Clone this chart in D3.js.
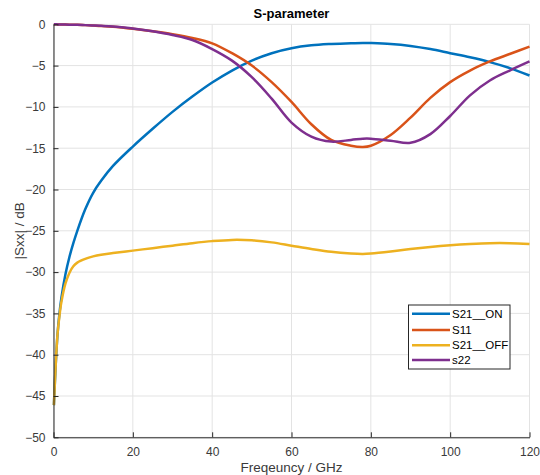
<!DOCTYPE html>
<html>
<head>
<meta charset="utf-8">
<script src="https://cdn.jsdelivr.net/npm/d3@7"></script>
<style>
  html, body { margin: 0; padding: 0; background: #fff; }
  svg { display: block; font-family: "Liberation Sans", Arial, Helvetica, sans-serif; }
</style>
</head>
<body>
<svg id="chart" width="540" height="475"></svg>
<script>
// Frequency grid (GHz)
const freq = [0.1, 0.5, 1, 1.5, 2, 3, 4, 5, 6, 8, 10, 12, 15, 20, 25, 30, 35, 40, 45, 50,
              55, 60, 65, 70, 75, 78, 80, 85, 90, 95, 100, 105, 110, 115, 120];

// |S| in dB for each trace
const s21On  = [-46.1, -41.8, -37.6, -35.0, -33.1, -30.3, -28.2, -26.5, -25.0, -22.4, -20.4, -18.95, -17.15, -14.8, -12.65, -10.6, -8.75, -7.05, -5.6, -4.4,
                -3.5, -2.9, -2.55, -2.38, -2.28, -2.25, -2.27, -2.38, -2.62, -3.0, -3.5, -4.0, -4.58, -5.3, -6.2];
const s11    = [0, 0, -0.01, -0.02, -0.02, -0.03, -0.04, -0.05, -0.06, -0.1, -0.15, -0.2, -0.3, -0.55, -0.85, -1.2, -1.65, -2.3, -3.5, -5.0,
                -7.0, -9.4, -12.1, -14.0, -14.7, -14.85, -14.7, -13.4, -11.3, -8.9, -7.0, -5.6, -4.5, -3.6, -2.7];
const s21Off = [-46.1, -41.8, -37.6, -35.3, -33.6, -31.4, -30.1, -29.3, -28.85, -28.4, -28.1, -27.9, -27.7, -27.4, -27.1, -26.8, -26.5, -26.25, -26.1, -26.15,
                -26.4, -26.8, -27.2, -27.55, -27.75, -27.8, -27.75, -27.5, -27.2, -26.95, -26.75, -26.6, -26.5, -26.5, -26.6];
const s22    = [0, 0, -0.01, -0.02, -0.02, -0.03, -0.04, -0.05, -0.06, -0.1, -0.14, -0.19, -0.28, -0.5, -0.85, -1.3, -1.9, -3.0, -4.4, -6.4,
                -9.0, -11.9, -13.6, -14.2, -14.0, -13.85, -13.85, -14.1, -14.35, -13.3, -11.1, -8.6, -6.8, -5.6, -4.5];

const seriesNames  = ["S21__ON", "S11", "S21__OFF", "s22"];
const seriesValues = [s21On, s11, s21Off, s22];
const seriesColors = ["#0072BD", "#D95319", "#EDB120", "#7E2F8E"];

const xTicks = [0, 20, 40, 60, 80, 100, 120];
const yTicks = [0, -5, -10, -15, -20, -25, -30, -35, -40, -45, -50];

const svg = d3.select("#chart");
const plot = { left: 53.5, right: 529.5, top: 24.3, bottom: 437.3 };

const x = d3.scaleLinear().domain([0, 120]).range([plot.left, plot.right]);
const y = d3.scaleLinear().domain([-50, 0]).range([plot.bottom, plot.top]);

const axisColor = "#262626";
const gridColor = "#e3e3e3";

// Grid
const grid = svg.append("g");
grid.selectAll("line.gx").data(xTicks).join("line")
  .attr("x1", d => x(d)).attr("x2", d => x(d))
  .attr("y1", plot.top).attr("y2", plot.bottom)
  .attr("stroke", gridColor).attr("stroke-width", 1);
grid.selectAll("line.gy").data(yTicks).join("line")
  .attr("x1", plot.left).attr("x2", plot.right)
  .attr("y1", d => y(d)).attr("y2", d => y(d))
  .attr("stroke", gridColor).attr("stroke-width", 1);

// Traces
const line = d3.line()
  .x((d, i) => x(freq[i]))
  .y(d => y(d))
  .curve(d3.curveCatmullRom.alpha(0.5));

svg.append("g").selectAll("path").data(seriesValues).join("path")
  .attr("d", d => line(d))
  .attr("fill", "none")
  .attr("stroke", (d, i) => seriesColors[i])
  .attr("stroke-width", 2.5)
  .attr("stroke-linejoin", "round");

// Axes (ticks pointing inward)
const xAxis = d3.axisBottom(x).tickValues(xTicks).tickSizeInner(-5).tickSizeOuter(0).tickPadding(10);
const yAxis = d3.axisLeft(y).tickValues(yTicks).tickSizeInner(-5).tickSizeOuter(0).tickPadding(8);

const gx = svg.append("g").attr("transform", `translate(0,${plot.bottom})`).call(xAxis);
const gy = svg.append("g").attr("transform", `translate(${plot.left},0)`).call(yAxis);

[gx, gy].forEach(g => {
  g.select(".domain").attr("stroke", axisColor).attr("stroke-width", 1);
  g.selectAll(".tick line").attr("stroke", axisColor).attr("stroke-width", 1);
  g.selectAll(".tick text")
    .attr("fill", "#3a3a3a")
    .style("font-size", "12px")
    .style("font-family", '"Liberation Sans", Arial, Helvetica, sans-serif');
});

// Title and axis labels
svg.append("text")
  .attr("x", (plot.left + plot.right) / 2).attr("y", 17.5)
  .attr("text-anchor", "middle")
  .style("font-size", "13px").style("font-weight", "bold")
  .attr("fill", "#000")
  .text("S-parameter");

svg.append("text")
  .attr("x", (plot.left + plot.right) / 2).attr("y", 471.5)
  .attr("text-anchor", "middle")
  .style("font-size", "13.5px")
  .attr("fill", "#3a3a3a")
  .text("Freqeuncy / GHz");

svg.append("text")
  .attr("transform", `translate(23.5,${(plot.top + plot.bottom) / 2}) rotate(-90)`)
  .attr("text-anchor", "middle")
  .style("font-size", "13.5px")
  .attr("fill", "#3a3a3a")
  .text("|Sxx| / dB");

// Legend
const legend = svg.append("g").attr("transform", "translate(408.5,305)");
legend.append("rect")
  .attr("width", 101.5).attr("height", 64)
  .attr("fill", "#fff")
  .attr("stroke", axisColor).attr("stroke-width", 1);

const rowY = [8.7, 25, 40.3, 55];
const items = legend.selectAll("g.item").data(seriesNames).join("g")
  .attr("transform", (d, i) => `translate(0,${rowY[i]})`);
items.append("line")
  .attr("x1", 3.5).attr("x2", 41.5)
  .attr("stroke", (d, i) => seriesColors[i])
  .attr("stroke-width", 2.5);
items.append("text")
  .attr("x", 43.5).attr("dy", "0.35em")
  .style("font-size", "11.5px")
  .attr("fill", "#000")
  .text(d => d);
</script>
</body>
</html>
